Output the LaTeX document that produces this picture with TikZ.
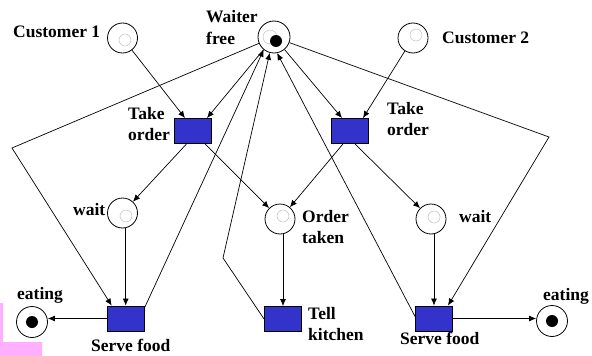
\documentclass[tikz,border=0pt]{standalone}
\usepackage{fontspec}
\setmainfont{Liberation Serif}
\usetikzlibrary{arrows.meta}
\definecolor{tblue}{RGB}{51,51,204}
\definecolor{pinkbg}{RGB}{255,175,255}
\definecolor{ringgrey}{RGB}{190,190,190}
\begin{document}
\begin{tikzpicture}[x=1pt,y=-1pt,
  place/.style={circle,draw=black,line width=0.8pt,minimum size=30pt,inner sep=0pt},
  trans/.style={rectangle,draw=black,fill=tblue,line width=0.9pt,minimum width=37pt,minimum height=25pt,inner sep=0pt},
  arc/.style={line width=0.7pt,-{Latex[length=7pt,width=6pt]}},
  plainarc/.style={line width=0.7pt},
  lbl/.style={font=\fontsize{17.5}{21}\selectfont\bfseries,inner sep=0pt,anchor=base west},
  lbltwo/.style={lbl,text width=70pt,align=left},
  tokring/.style={draw=ringgrey,line width=0.5pt},
  token/.style={fill=black}
]
\useasboundingbox (0,0) rectangle (592,356);
% pink background fragment
\fill[pinkbg] (0,303) -- (3,303) -- (3,342) -- (42,342) -- (42,356) -- (0,356) -- cycle;

% places
\node[place] (c1) at (122.5,38) {};
\node[place,minimum size=32pt] (wf) at (274,37) {};
\node[place] (c2) at (413,38) {};
\node[place] (wl) at (122.5,213) {};
\node[place] (ot) at (280,219) {};
\node[place] (wr) at (431,219) {};
\node[place,minimum size=31pt] (el) at (32,322) {};
\node[place,minimum size=31pt] (er) at (552,321) {};

% transitions
\node[trans] (to1) at (192.5,131) {};
\node[trans] (to2) at (350,131) {};
\node[trans] (sfl) at (125.7,318.5) {};
\node[trans] (tk) at (283,319) {};
\node[trans] (sfr) at (434,318.5) {};

% tokens and token rings
\draw[tokring] ([shift={(2.5,2)}]c1.center) circle[radius=6pt];
\draw[tokring] ([shift={(3,-3)}]c2.center) circle[radius=6pt];
\draw[tokring] ([shift={(3.5,3)}]wl.center) circle[radius=6pt];
\draw[tokring] ([shift={(3,-3)}]ot.center) circle[radius=6pt];
\draw[tokring] ([shift={(3,-2)}]wr.center) circle[radius=6pt];
\draw[tokring] ([shift={(-4,0)}]wf.center) circle[radius=7pt];
\fill[token] ([shift={(2,4)}]wf.center) circle[radius=6pt];
\fill[token] ([shift={(0,0)}]el.center) circle[radius=6pt];
\fill[token] ([shift={(0,0)}]er.center) circle[radius=6pt];

% corner coordinates
\coordinate (kL) at (12,148);
\coordinate (kR) at (549,137);
\coordinate (kT) at (223,258);

% arcs
\draw[arc] (c1) -- ([xshift=-7.5pt]to1.north);
\draw[arc] (wf) -- ([xshift=14.5pt]to1.north);
\draw[arc] (wf) -- ([xshift=-8pt]to2.north);
\draw[arc] (c2) -- ([xshift=13pt]to2.north);
\draw[arc] ([xshift=-6pt]to1.south) -- (wl);
\draw[arc] ([xshift=12.5pt]to1.south) -- (ot);
\draw[arc] ([xshift=-7pt]to2.south) -- (ot);
\draw[arc] ([xshift=5pt]to2.south) -- (wr);
\draw[arc] (wl.south -| sfl.north) -- (sfl.north);
\draw[arc] (ot.south -| tk.north) -- (tk.north);
\draw[arc] (wr.south -| sfr.north) -- (sfr.north);
\draw[arc] (sfl.west) -- (sfl.west -| el.east);
\draw[arc] (sfr.east) -- (sfr.east -| er.west);
\draw[arc] (wf) -- (kL) -- ([xshift=-14pt]sfl.north);
\draw[arc] (wf) -- (kR) -- ([xshift=14pt]sfr.north);
\draw[arc] ([yshift=-2pt]sfl.north east) -- (wf.231);
\draw[arc] (tk.west) -- (kT) -- (wf.255);
\draw[arc] ([yshift=2pt]sfr.west) -- (wf.281);

% labels
\node[lbl] (lc1) at (13,37) {Customer 1};
\node[lbltwo] (lwf) at (206,23) {Waiter\\free};
\node[lbl] (lc2) at (442,43) {Customer 2};
\node[lbltwo] (lto1) at (128,119) {Take\\order};
\node[lbltwo] (lto2) at (387,114) {Take\\order};
\node[lbl] (lwl) at (73,215) {wait};
\node[lbltwo] (lot) at (302,222) {Order\\taken};
\node[lbl] (lwr) at (459,222) {wait};
\node[lbl] (lel) at (17,299) {eating};
\node[lbl] (lsfl) at (91,351) {Serve food};
\node[lbltwo] (ltk) at (308,319) {Tell\\kitchen};
\node[lbl] (lsfr) at (400,344) {Serve food};
\node[lbl] (ler) at (543,300) {eating};
\end{tikzpicture}
\end{document}
